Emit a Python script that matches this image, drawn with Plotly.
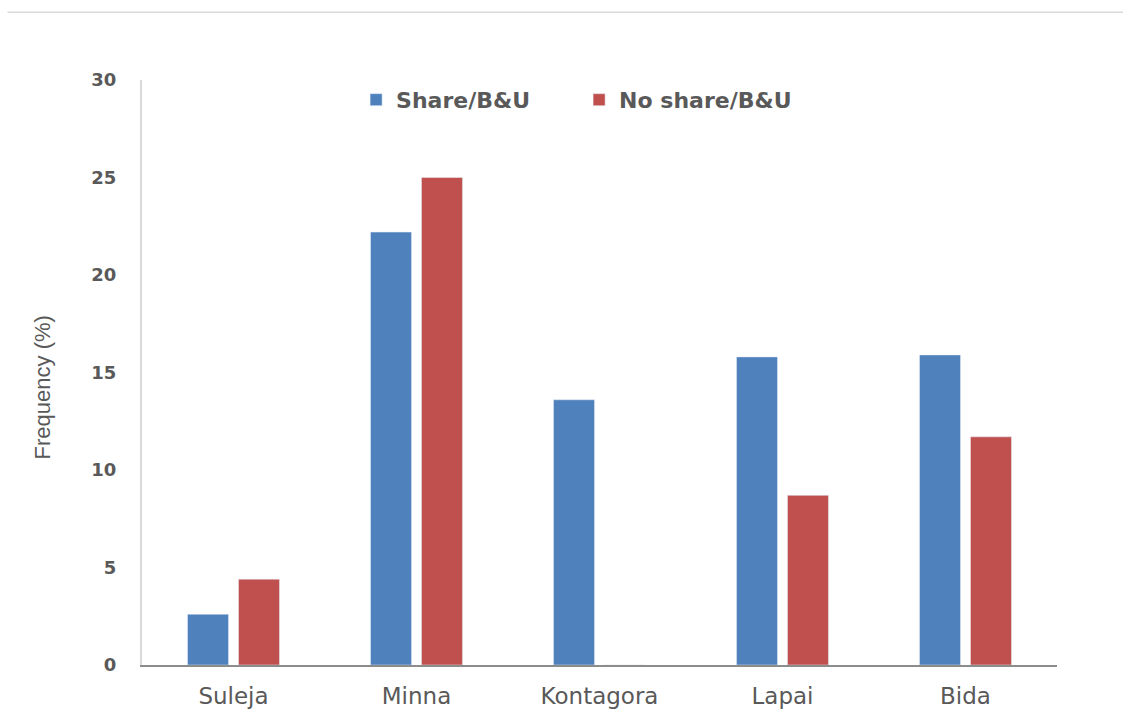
import plotly.graph_objects as go

# Survey towns and the share of respondents in each group
towns = ["Suleja", "Minna", "Kontagora", "Lapai", "Bida"]
share_bu = [2.6, 22.2, 13.6, 15.8, 15.9]
no_share_bu = [4.4, 25.0, 0.0, 8.7, 11.7]
y_ticks = [0, 5, 10, 15, 20, 25, 30]

BLUE = "#4F81BD"
RED = "#C0504D"
GREY = "#595959"

fig = go.Figure()
fig.add_trace(go.Bar(x=towns, y=share_bu, name="Share/B&U", marker_color=BLUE))
fig.add_trace(go.Bar(x=towns, y=no_share_bu, name="No share/B&U", marker_color=RED))

fig.update_layout(
    width=1123,
    height=723,
    margin=dict(l=142, r=66, t=80, b=58),
    paper_bgcolor="white",
    plot_bgcolor="white",
    barmode="group",
    bargap=0.443,
    bargroupgap=0.196,
    showlegend=True,
    legend=dict(
        orientation="h",
        x=0.234,
        y=0.966,
        xanchor="left",
        yanchor="middle",
        font=dict(family="DejaVu Sans", size=22, color=GREY, weight="bold"),
        itemwidth=30,
        entrywidth=178,
        bgcolor="rgba(0,0,0,0)",
    ),
    xaxis=dict(
        showline=True,
        linecolor="#8c8c8c",
        linewidth=1.5,
        ticks="",
        showgrid=False,
        ticklabelstandoff=10,
        tickfont=dict(family="DejaVu Sans", size=23, color=GREY),
    ),
    yaxis=dict(
        range=[0, 30],
        tickvals=y_ticks,
        showline=True,
        linecolor="#d9d9d9",
        linewidth=2,
        ticks="",
        showgrid=False,
        zeroline=False,
        ticklabelstandoff=20,
        tickfont=dict(family="DejaVu Sans", size=18, color=GREY, weight="bold"),
    ),
)

# Vertical axis title, placed a little below the plot's mid-height
fig.add_annotation(
    text="Frequency (%)",
    xref="paper", yref="paper",
    x=-0.109, y=0.475,
    xanchor="center", yanchor="middle",
    textangle=-90,
    showarrow=False,
    font=dict(family="Liberation Sans", size=22, color=GREY),
)

# Thin rule across the top of the page
fig.add_shape(
    type="line", xref="paper", yref="paper",
    x0=-0.147, x1=1.08, y0=1.116, y1=1.116,
    line=dict(color="#d9d9d9", width=1.5),
)

fig.write_html("out.html")
